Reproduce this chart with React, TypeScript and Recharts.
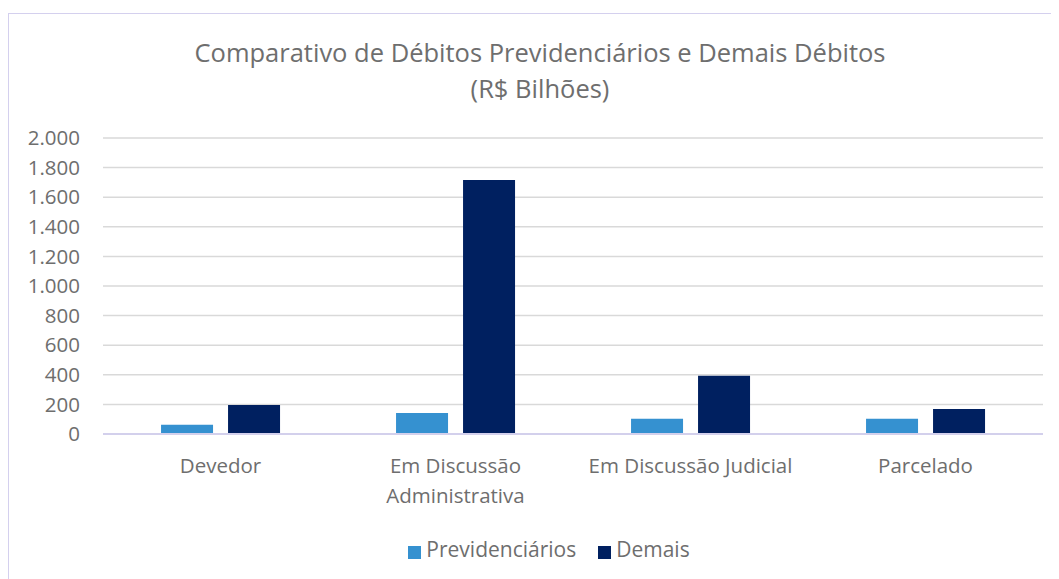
import { BarChart, Bar, XAxis, YAxis, CartesianGrid, Legend } from "recharts"

const categories = ["Devedor", "Em Discussão Administrativa", "Em Discussão Judicial", "Parcelado"]
const previdenciarios = [63, 142, 103, 103]
const demais = [196, 1716, 394, 169]
const yTicks = [0, 200, 400, 600, 800, 1000, 1200, 1400, 1600, 1800, 2000]

const data = categories.map((name, i) => ({
    name,
    previdenciarios: previdenciarios[i],
    demais: demais[i],
}))

const seriesOrder = ["Previdenciários", "Demais"]

const textColor = "#6e6e6e"
const font = "'Open Sans', sans-serif"

const formatNumber = (n: number) => n.toString().replace(/\B(?=(\d{3})+(?!\d))/g, ".")

// excel-ish wrap: break long labels on the last space that fits
function wrapLabel(label: string, maxChars = 22): string[] {
    if (label.length <= maxChars) return [label]
    const words = label.split(" ")
    const lines: string[] = []
    let cur = ""
    for (const w of words) {
        const next = cur ? cur + " " + w : w
        if (next.length > 14 && cur) {
            lines.push(cur)
            cur = w
        } else {
            cur = next
        }
    }
    if (cur) lines.push(cur)
    return lines
}

const CategoryTick = (props: any) => {
    const { x, y, payload } = props
    const lines = wrapLabel(payload.value)
    return (
        <text x={x} y={y} textAnchor="middle" fill={textColor} fontSize={20.5} fontFamily={font}>
            {lines.map((l, i) => (
                <tspan key={i} x={x} dy={i === 0 ? 31 : 30}>{l}</tspan>
            ))}
        </text>
    )
}

export default function App() {
    return (
        <div
            style={{
                position: "relative",
                marginTop: 5,
                width: 1051,
                height: 566,
                boxSizing: "border-box",
                borderLeft: "1px solid #d4d0ee",
                borderTop: "1px solid #d4d0ee",
                overflow: "hidden",
                fontFamily: font,
            }}
        >
            <div
                style={{
                    position: "absolute",
                    left: 0,
                    top: 20,
                    width: 1062,
                    textAlign: "center",
                    fontSize: 25.5,
                    lineHeight: "36px",
                    color: textColor,
                }}
            >
                Comparativo de Débitos Previdenciários e Demais Débitos
                <br />
                (R$ Bilhões)
            </div>
            <BarChart
                width={1050}
                height={565}
                data={data}
                margin={{ top: 124, right: 16, left: 14, bottom: 85 }}
                barCategoryGap="24.7%"
                barGap={15}
            >
                <CartesianGrid vertical={false} stroke="#d9d9d9" strokeWidth={1.5} />
                <XAxis
                    dataKey="name"
                    height={60}
                    axisLine={{ stroke: "#d3d0ec", strokeWidth: 2 }}
                    tickLine={false}
                    interval={0}
                    tick={<CategoryTick />}
                />
                <YAxis
                    width={80}
                    domain={[0, 2000]}
                    ticks={yTicks}
                    axisLine={false}
                    tickLine={false}
                    tickMargin={17}
                    tickFormatter={formatNumber}
                    tick={{ fontSize: 20.5, fill: textColor, fontFamily: font }}
                />
                <Legend
                    verticalAlign="middle"
                    align="center"
                    iconType="square"
                    iconSize={13}
                    itemSorter={(item: any) => seriesOrder.indexOf(item.value)}
                    wrapperStyle={{ top: 521, left: 10, width: 1082 }}
                    formatter={(value: string) => (
                        <span style={{ color: textColor, fontSize: 21, fontFamily: font, marginLeft: 1, marginRight: 12 }}>{value}</span>
                    )}
                />
                <Bar dataKey="previdenciarios" name="Previdenciários" fill="#3591d0" isAnimationActive={false} />
                <Bar dataKey="demais" name="Demais" fill="#002060" isAnimationActive={false} />
            </BarChart>
        </div>
    )
}
